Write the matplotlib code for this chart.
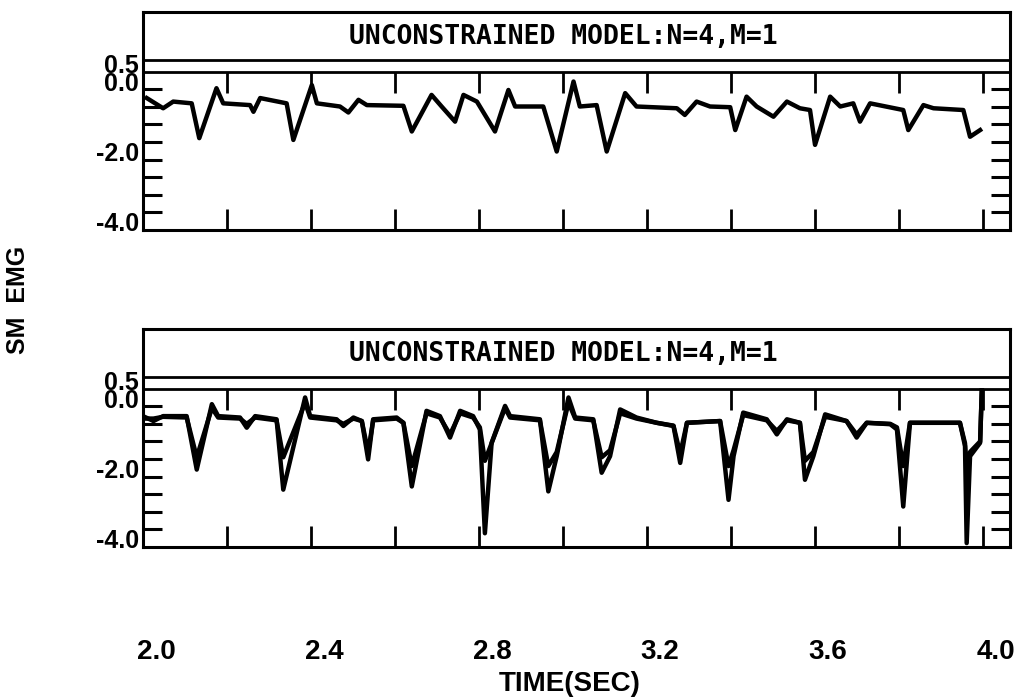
import matplotlib
matplotlib.use("Agg")
import matplotlib.pyplot as plt
import matplotlib.transforms as mtransforms

# top panel: single trace
top_t = [2.009, 2.048, 2.072, 2.116, 2.134, 2.175, 2.191, 2.255, 2.263, 2.279,
         2.342, 2.358, 2.402, 2.414, 2.469, 2.489, 2.513, 2.533, 2.620, 2.640,
         2.687, 2.711, 2.743, 2.763, 2.795, 2.838, 2.870, 2.886, 2.953, 2.985,
         3.025, 3.040, 3.080, 3.104, 3.148, 3.175, 3.271, 3.290, 3.318, 3.350,
         3.398, 3.410, 3.437, 3.461, 3.501, 3.533, 3.564, 3.588, 3.600, 3.636,
         3.660, 3.691, 3.707, 3.731, 3.810, 3.822, 3.858, 3.882, 3.953, 3.969,
         3.993]
top_emg = [-0.75, -1.04, -0.85, -0.90, -1.89, -0.47, -0.90, -0.95, -1.14, -0.75,
           -0.90, -1.94, -0.38, -0.90, -0.99, -1.16, -0.80, -0.95, -0.97, -1.70,
           -0.66, -0.99, -1.42, -0.66, -0.85, -1.70, -0.52, -0.99, -0.99, -2.27,
           -0.28, -0.99, -0.95, -2.27, -0.61, -0.99, -1.04, -1.23, -0.85, -0.99,
           -1.01, -1.66, -0.71, -0.99, -1.28, -0.85, -1.04, -1.09, -2.08, -0.71,
           -0.99, -0.90, -1.42, -0.90, -1.09, -1.66, -0.95, -1.04, -1.09, -1.85,
           -1.66]

# bottom panel: measured and model traces
bot_t = [2.000, 2.025, 2.048, 2.104, 2.128, 2.164, 2.179, 2.231, 2.247, 2.267,
         2.318, 2.334, 2.386, 2.398, 2.461, 2.477, 2.501, 2.521, 2.536, 2.548,
         2.604, 2.620, 2.640, 2.675, 2.707, 2.731, 2.755, 2.786, 2.802, 2.814,
         2.830, 2.862, 2.874, 2.945, 2.965, 2.985, 3.013, 3.029, 3.072, 3.092,
         3.112, 3.136, 3.175, 3.223, 3.263, 3.279, 3.295, 3.374, 3.394, 3.406,
         3.429, 3.485, 3.509, 3.533, 3.564, 3.576, 3.596, 3.624, 3.675, 3.699,
         3.723, 3.779, 3.795, 3.810, 3.826, 3.945, 3.957, 3.961, 3.969, 3.993,
         3.997]
bot_emg = [-0.78, -0.92, -0.78, -0.78, -2.30, -0.44, -0.78, -0.82, -1.11, -0.78,
           -0.87, -2.87, -0.25, -0.78, -0.87, -1.06, -0.82, -0.92, -2.01, -0.87,
           -0.82, -0.97, -2.78, -0.63, -0.78, -1.39, -0.63, -0.78, -1.16, -4.11,
           -1.54, -0.49, -0.78, -0.87, -2.92, -1.92, -0.25, -0.82, -0.87, -2.39,
           -1.92, -0.59, -0.82, -0.97, -1.06, -2.11, -0.97, -0.92, -3.16, -1.92,
           -0.68, -0.87, -1.30, -0.87, -0.97, -2.59, -1.92, -0.73, -0.92, -1.39,
           -0.97, -1.01, -1.16, -3.35, -0.97, -0.97, -1.63, -4.39, -1.92, -1.54,
           -0.05]
bot_model = [-0.85, -0.85, -0.80, -0.82, -1.95, -0.55, -0.82, -0.85, -1.00, -0.82,
             -0.90, -1.95, -0.40, -0.82, -0.90, -1.00, -0.85, -0.92, -1.80, -0.90,
             -0.85, -0.97, -2.20, -0.70, -0.82, -1.30, -0.70, -0.82, -1.10, -2.05,
             -1.55, -0.55, -0.82, -0.90, -2.20, -1.80, -0.40, -0.85, -0.90, -1.95,
             -1.75, -0.70, -0.85, -0.97, -1.05, -1.85, -0.97, -0.92, -2.20, -1.75,
             -0.75, -0.90, -1.20, -0.90, -0.97, -2.05, -1.80, -0.80, -0.92, -1.30,
             -0.97, -1.00, -1.10, -2.20, -0.97, -0.97, -1.55, -2.30, -1.80, -1.50,
             -0.05]

TITLE = "UNCONSTRAINED MODEL:N=4,M=1"
xticks = [2.0, 2.2, 2.4, 2.6, 2.8, 3.0, 3.2, 3.4, 3.6, 3.8, 4.0]
xlabels = ["2.0", "", "2.4", "", "2.8", "", "3.2", "", "3.6", "", "4.0"]
yticks = [0.5, 0.0, -2.0, -4.0]
ylabels = ["0.5", "0.0", "-2.0", "-4.0"]
yminor = [-0.5, -1.0, -1.5, -2.0, -2.5, -3.0, -3.5, -4.0]

plt.rcParams["font.family"] = ["Liberation Sans", "DejaVu Sans"]

fig = plt.figure(figsize=(10.14, 6.99), dpi=100)
ax_top = fig.add_axes([0.141, 0.671, 0.855, 0.312])
ax_bot = fig.add_axes([0.141, 0.2175, 0.855, 0.312])


def style_panel(ax, show_xlabels):
    ax.set_xlim(2.0, 4.064)
    ax.set_ylim(-4.5, 1.7)
    for sp in ax.spines.values():
        sp.set_linewidth(2.2)
    ax.axhline(0.32, color="black", lw=2.0)
    ax.axhline(0.0, color="black", lw=2.0)
    # x ticks hanging from the header line
    ax.vlines(xticks[1:], -0.62, 0.0, color="black", lw=2.0)
    ax.set_xticks(xticks)
    ax.set_xticklabels(xlabels if show_xlabels else [""] * len(xticks))
    ax.tick_params(axis="x", direction="in", length=15, width=2.0,
                   pad=66, labelsize=20)
    ax.yaxis.remove_overlapping_locs = False
    ax.set_yticks(yticks)
    ax.set_yticklabels(ylabels)
    ax.set_yticks(yminor, minor=True)
    ax.tick_params(axis="y", which="major", length=0, pad=3, labelsize=18)
    ax.tick_params(axis="y", which="minor", direction="in", length=14,
                   width=2.2, left=True, right=True)
    for lab in ax.get_yticklabels():
        lab.set_va("top")
        lab.set_fontweight("bold")
    offset = mtransforms.ScaledTranslation(0.13, 0, fig.dpi_scale_trans)
    for lab in ax.get_xticklabels():
        lab.set_fontweight("bold")
        lab.set_transform(lab.get_transform() + offset)
    ax.text(3.0, 1.0, TITLE, family="DejaVu Sans Mono", fontsize=19,
            fontweight="bold", ha="center", va="center")


style_panel(ax_top, False)
ax_top.plot(top_t, top_emg, color="black", lw=3.2, solid_joinstyle="round")

style_panel(ax_bot, True)
ax_bot.plot(bot_t, bot_model, color="black", lw=3.2, solid_joinstyle="round")
ax_bot.plot(bot_t, bot_emg, color="black", lw=3.2, solid_joinstyle="round")

fig.text(0.018, 0.571, "SM  EMG", rotation=90, ha="center", va="center",
         fontsize=18, fontweight="bold")
fig.text(0.562, 0.022, "TIME(SEC)", ha="center", va="center",
         fontsize=20, fontweight="bold")

fig.savefig("out.png", dpi=100)
